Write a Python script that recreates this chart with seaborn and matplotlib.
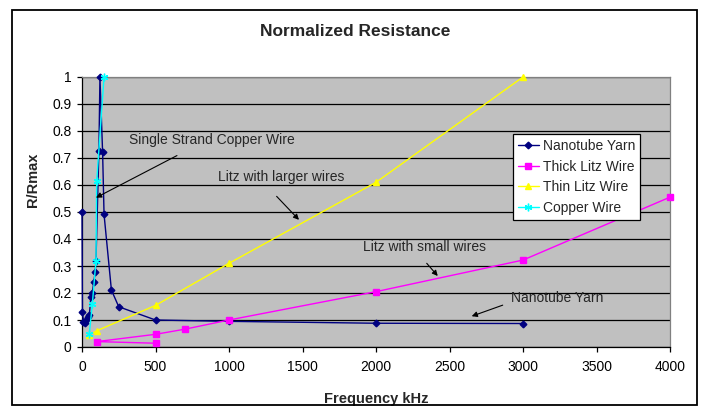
import matplotlib
matplotlib.use("Agg")
import matplotlib.pyplot as plt
import seaborn as sns
import pandas as pd
from matplotlib.patches import Rectangle

# ---------------- data ----------------
nano_f = [0, 3, 10, 20, 30, 40, 50, 60, 70, 80, 90, 95, 115, 122, 140, 150, 200, 250, 500, 1000, 2000, 3000]
nano_r = [0.50, 0.13, 0.093, 0.09, 0.10, 0.11, 0.118, 0.186, 0.20, 0.241, 0.278, 0.318, 0.726, 1.0, 0.724,
          0.491, 0.211, 0.149, 0.10, 0.095, 0.088, 0.087]

thick_f = [500, 100, 500, 700, 1000, 2000, 3000, 4000]
thick_r = [0.014, 0.02, 0.047, 0.066, 0.10, 0.205, 0.322, 0.555]

thin_f = [50, 100, 500, 1000, 2000, 3000]
thin_r = [0.044, 0.06, 0.154, 0.31, 0.61, 1.0]

copper_f = [50, 70, 95, 100, 150]
copper_r = [0.05, 0.158, 0.318, 0.615, 1.0]

series_names = ["Nanotube Yarn", "Thick Litz Wire", "Thin Litz Wire", "Copper Wire"]
x_ticks = [0, 500, 1000, 1500, 2000, 2500, 3000, 3500, 4000]
y_ticks = [0, 0.1, 0.2, 0.3, 0.4, 0.5, 0.6, 0.7, 0.8, 0.9, 1]
y_tick_labels = ["0", "0.1", "0.2", "0.3", "0.4", "0.5", "0.6", "0.7", "0.8", "0.9", "1"]

# ---------------- figure ----------------
sns.set_style("white")
plt.rcParams["font.family"] = ["Liberation Sans", "DejaVu Sans"]

W, H = 704, 412
fig = plt.figure(figsize=(W / 100, H / 100), dpi=100)
fig.patch.set_facecolor("white")
L, R, B, T = 82, 670, 347, 77
ax = fig.add_axes([L / W, 1 - B / H, (R - L) / W, (B - T) / H])
ax.set_facecolor("#C0C0C0")

styles = [
    (nano_f, nano_r, "#000080", "D", 3.4),
    (thick_f, thick_r, "#FF00FF", "s", 3.8),
    (thin_f, thin_r, "#FFFF00", "^", 4.6),
    (copper_f, copper_r, "#00FFFF", (6, 2, 0), 5.5),
]
for name, (xs, ys, col, mk, ms) in zip(series_names, styles):
    df = pd.DataFrame({"f": xs, "r": ys})
    sns.lineplot(data=df, x="f", y="r", ax=ax, sort=False, estimator=None,
                 color=col, marker=mk, markersize=ms, markeredgecolor=col,
                 markerfacecolor=col, markeredgewidth=1.0, linewidth=1.0,
                 label=name, clip_on=False, zorder=3)

ax.set_xlim(0, 4000)
ax.set_ylim(0, 1)
ax.set_xticks(x_ticks)
ax.set_xticklabels([str(t) for t in x_ticks])
ax.set_yticks(y_ticks)
ax.set_yticklabels(y_tick_labels)
ax.yaxis.grid(True, color="black", linewidth=0.9)
ax.xaxis.grid(False)
ax.set_axisbelow(True)

for s in ["left", "bottom"]:
    ax.spines[s].set_color("black")
    ax.spines[s].set_linewidth(0.9)
for s in ["top", "right"]:
    ax.spines[s].set_color("#808080")
    ax.spines[s].set_linewidth(0.9)

ax.tick_params(axis="both", direction="out", length=3.5, width=0.9, color="black",
               labelsize=10, labelcolor="black", pad=4,
               bottom=True, left=True)
ax.tick_params(axis="x", pad=6)

ax.set_xlabel("Frequency kHz", fontsize=10.5, fontweight="bold")
ax.set_ylabel("R/Rmax", fontsize=10.5, fontweight="bold")
ax.xaxis.set_label_coords(0.5, -0.165)
ax.yaxis.set_label_coords(-0.072, 0.62)

fig.text(355 / W, 1 - 31 / H, "Normalized Resistance", ha="center", va="center",
         fontsize=12.5, fontweight="bold")

# annotations
ap = dict(arrowstyle="-|>", color="black", lw=0.8, mutation_scale=8, shrinkA=0, shrinkB=0)
ax.text(320, 0.768, "Single Strand Copper Wire", fontsize=10, ha="left", va="center")
ax.annotate("", xy=(95, 0.553), xytext=(646, 0.709), arrowprops=ap)

ax.text(925, 0.631, "Litz with larger wires", fontsize=10, ha="left", va="center")
ax.annotate("", xy=(1476, 0.471), xytext=(1324, 0.558), arrowprops=ap)

ax.text(2748, 0.371, "Litz with small wires", fontsize=10, ha="right", va="center")
ax.annotate("", xy=(2420, 0.263), xytext=(2345, 0.31), arrowprops=ap)

ax.text(2918, 0.181, "Nanotube Yarn", fontsize=10, ha="left", va="center")
ax.annotate("", xy=(2651, 0.114), xytext=(2862, 0.155), arrowprops=ap)

leg = ax.legend(loc="upper left", bbox_to_anchor=(513 / W, 1 - 134 / H),
                bbox_transform=fig.transFigure, fontsize=10, frameon=True,
                fancybox=False, framealpha=1, facecolor="white", edgecolor="black",
                borderpad=0.35, labelspacing=0.48, handlelength=1.5, handletextpad=0.3,
                borderaxespad=0)
leg.get_frame().set_linewidth(0.9)

fig.add_artist(Rectangle((12 / W, 1 - 405 / H), (697 - 12) / W, (405 - 10) / H,
                         transform=fig.transFigure, fill=False, edgecolor="black", linewidth=1.3))

fig.savefig("out.png", dpi=100)
